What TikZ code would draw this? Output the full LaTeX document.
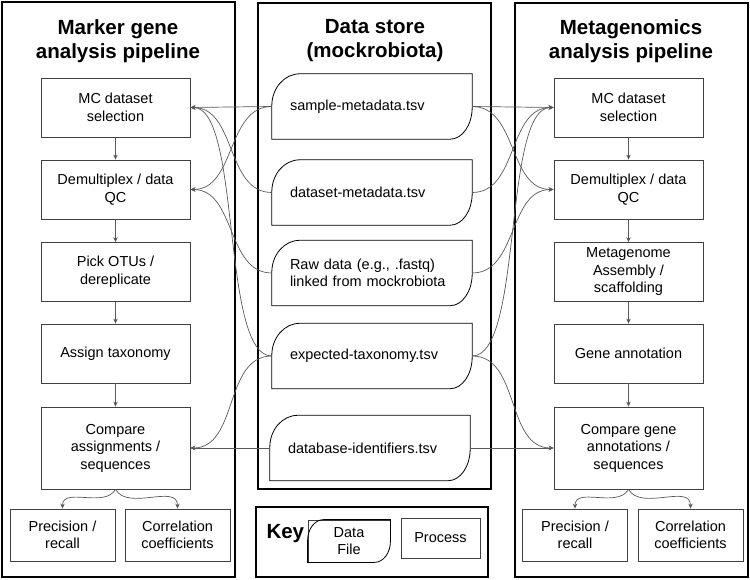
\documentclass[tikz,border=0pt]{standalone}
\usepackage{fontspec}
\setmainfont{Liberation Sans}
\usetikzlibrary{arrows.meta}

\tikzset{
  panel/.style={draw=black, line width=2.2pt},
  title/.style={align=center, font=\fontsize{20.5}{24}\selectfont\bfseries},
  proc/.style={draw=black!75, line width=0.8pt, minimum width=149pt, minimum height=59pt,
    align=center, inner sep=0pt, font=\fontsize{14.5}{17.5}\selectfont},
  result/.style={proc, minimum width=105pt, minimum height=52pt},
  datafile/.style={minimum width=200pt, minimum height=65pt, text width=164pt,
    inner xsep=18pt, inner ysep=0pt, align=left, font=\fontsize{14.5}{17.5}\selectfont},
  link/.style={draw=black!65, line width=0.7pt, -{Stealth[length=5pt,width=4.5pt]}},
}

\begin{document}
\begin{tikzpicture}[x=1pt, y=-1pt]

  \useasboundingbox (0,0) rectangle (750,580);

  % panels
  \draw[panel] (2,2) rectangle (235,577);
  \draw[panel] (258,3) rectangle (491,489);
  \draw[panel] (256,507) rectangle (488,577);
  \draw[panel] (515,3) rectangle (748,577);

  \node[title] (ltitle) at (118,41) {Marker gene\\analysis pipeline};
  \node[title] (mtitle) at (375,41) {Data store\\(mockrobiota)};
  \node[title] (rtitle) at (631,41) {Metagenomics\\analysis pipeline};

  % marker gene pipeline
  \begin{scope}[every node/.style={proc}]
    \node (lsel) at (115.5,107.5) {MC dataset\\selection};
    \node (ldmx) at (115.5,189.5) {Demultiplex / data\\QC};
    \node (lotu) at (115.5,272)   {Pick OTUs /\\dereplicate};
    \node (ltax) at (115.5,353.5) {Assign taxonomy};
    \node[minimum height=82pt] (lcmp) at (115.5,448) {Compare\\assignments /\\sequences};
  \end{scope}
  \node[result] (lprec) at (62.5,535)  {Precision /\\recall};
  \node[result] (lcorr) at (177.5,535) {Correlation\\coefficients};

  % metagenomics pipeline
  \begin{scope}[every node/.style={proc}]
    \node (rsel) at (628.5,107.5) {MC dataset\\selection};
    \node (rdmx) at (628.5,189.5) {Demultiplex / data\\QC};
    \node (rasm) at (628.5,272)   {Metagenome\\Assembly /\\scaffolding};
    \node (rann) at (628.5,353.5) {Gene annotation};
    \node[minimum height=82pt] (rcmp) at (628.5,448) {Compare gene\\annotations /\\sequences};
  \end{scope}
  \node[result] (rprec) at (575,535)   {Precision /\\recall};
  \node[result] (rcorr) at (690.5,535) {Correlation\\coefficients};

  % data store
  \begin{scope}[every node/.style={datafile}]
    \node (smeta) at (372,106.5) {sample-metadata.tsv};
    \node (dmeta) at (372,192.5) {dataset-metadata.tsv};
    \node (raw)   at (372,273)   {Raw data (e.g., .fastq)\\linked from mockrobiota};
    \node (etax)  at (372,356)   {expected-taxonomy.tsv};
    \node (dbid)  at (370,448)   {database-identifiers.tsv};
  \end{scope}
  \foreach \f in {smeta,dmeta,raw,etax,dbid}
    \draw[line width=0.8pt] (\f.south west) -- ([yshift=-32pt]\f.north west)
      arc[start angle=180, end angle=90, x radius=28pt, y radius=32pt]
      -- (\f.north east) -- ([yshift=32pt]\f.south east)
      arc[start angle=0, end angle=-90, x radius=22pt, y radius=32pt] -- cycle;

  % key
  \node[title, anchor=base west] (key) at (263,538) {Key};
  \node[proc, minimum width=82pt, minimum height=42pt] (kfile) at (349,541) {Data\\File};
  \node[proc, minimum width=79pt, minimum height=40pt] (kproc) at (440.5,538) {Process};
  \draw[draw=white, line width=1.6pt] (kfile.south west) rectangle (kfile.north east);
  \draw[line width=0.8pt] (kfile.south west) -- ([yshift=-21pt]kfile.north west)
    arc[start angle=180, end angle=90, x radius=16pt, y radius=21pt]
    -- (kfile.north east) -- ([yshift=21pt]kfile.south east)
    arc[start angle=0, end angle=-90, x radius=16pt, y radius=21pt] -- cycle;

  % pipeline steps
  \foreach \a/\b in {lsel/ldmx,ldmx/lotu,lotu/ltax,ltax/lcmp,rsel/rdmx,rdmx/rasm,rasm/rann,rann/rcmp}
    \draw[link] (\a) -- (\b);
  \draw[link] (lcmp.south) to[out=-120,in=90] (lprec.north);
  \draw[link] (lcmp.south) to[out=-60,in=90] (lcorr.north);
  \draw[link] (rcmp.south) to[out=-120,in=90] (rprec.north);
  \draw[link] (rcmp.south) to[out=-60,in=90] (rcorr.north);

  % data into marker gene pipeline
  \draw[link] (smeta.west) -- (lsel.east);
  \draw[link] (smeta.west) to[out=180,in=0] (ldmx.east);
  \draw[link] (dmeta.west) to[out=180,in=0] (lsel.east);
  \draw[link] (raw.west) to[out=180,in=0] (ldmx.east);
  \draw[link] (etax.west) to[out=180,in=0,looseness=.5] (lsel.east);
  \draw[link] (etax.west) to[out=180,in=0] (lcmp.east);
  \draw[link] (dbid.west) -- (lcmp.east);

  % data into metagenomics pipeline
  \draw[link] (smeta.east) -- (rsel.west);
  \draw[link] (smeta.east) to[out=0,in=180] (rdmx.west);
  \draw[link] (dmeta.east) to[out=0,in=180] (rsel.west);
  \draw[link] (raw.east) to[out=0,in=180] (rdmx.west);
  \draw[link] (etax.east) to[out=0,in=180,looseness=.5] (rsel.west);
  \draw[link] (etax.east) to[out=0,in=180] (rcmp.west);
  \draw[link] (dbid.east) -- (rcmp.west);

\end{tikzpicture}
\end{document}
